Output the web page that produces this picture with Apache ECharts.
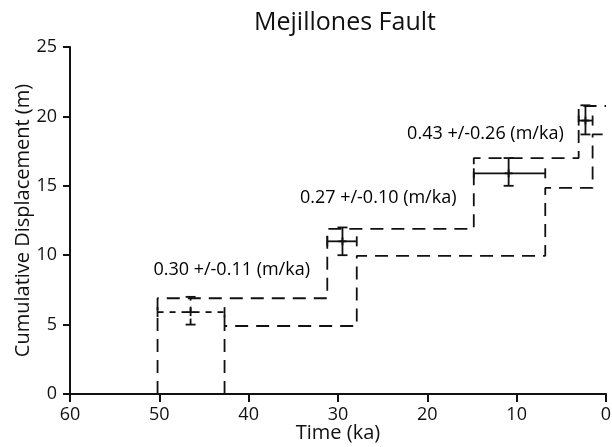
<!DOCTYPE html>
<html>
<head>
<meta charset="utf-8">
<script src="https://cdn.jsdelivr.net/npm/echarts@6/dist/echarts.min.js"></script>
<style>
  html, body { margin: 0; padding: 0; background: #fff; }
  #chart { width: 612px; height: 447px; }
</style>
</head>
<body>
<div id="chart"></div>
<script>
// step envelopes (time ka, displacement m)
var upperStep = [[50.2, 0], [50.2, 6.9], [31.2, 6.9], [31.2, 11.9], [14.8, 11.9], [14.8, 17.0], [3.06, 17.0], [3.06, 20.75], [0, 20.75]];
var lowerStep = [[42.7, 0], [42.7, 5.85], [42.7, 4.9], [27.9, 4.9], [27.9, 9.95], [6.8, 9.95], [6.8, 14.85], [1.5, 14.85], [1.5, 18.7], [0, 18.7]];

// error bars
var ptTime = [46.5, 29.5, 10.9, 2.3];
var ptDisp = [5.9, 11.0, 15.9, 19.7];
var timeOld = [50.2, 31.2, 14.8, 3.06];
var timeYoung = [42.7, 27.9, 6.8, 1.5];
var dispLow = [5.0, 10.0, 15.0, 18.7];
var dispHigh = [7.0, 12.0, 17.0, 20.8];
var dashedBar = [true, false, false, false];

// slip rate labels
var rateText = ['0.30 +/-0.11 (m/ka)', '0.27 +/-0.10 (m/ka)', '0.43 +/-0.26 (m/ka)'];
var rateTime = [41.9, 25.5, 13.5];
var rateDisp = [8.95, 14.15, 18.75];

var FONT = '"Open Sans", "Noto Sans", sans-serif';

var errData = ptTime.map(function (t, i) {
    return [t, ptDisp[i], timeOld[i], timeYoung[i], dispLow[i], dispHigh[i], dashedBar[i] ? 1 : 0];
});
var rateData = rateText.map(function (s, i) {
    return { value: [rateTime[i], rateDisp[i]], name: s };
});

function renderErr(params, api) {
    var c = api.coord([api.value(0), api.value(1)]);
    var xl = api.coord([api.value(2), api.value(1)]);
    var xr = api.coord([api.value(3), api.value(1)]);
    var yb = api.coord([api.value(0), api.value(4)]);
    var yt = api.coord([api.value(0), api.value(5)]);
    var dash = api.value(6) ? [6, 6] : null;
    var st = { stroke: '#111', lineWidth: 1.8, lineDash: dash };
    var solid = { stroke: '#111', lineWidth: 1.8 };
    var cap = 5;
    return {
        type: 'group',
        children: [
            { type: 'line', shape: { x1: xl[0], y1: c[1], x2: xr[0], y2: c[1] }, style: st },
            { type: 'line', shape: { x1: c[0], y1: yb[1], x2: c[0], y2: yt[1] }, style: st },
            { type: 'line', shape: { x1: xl[0], y1: c[1] - cap, x2: xl[0], y2: c[1] + cap }, style: solid },
            { type: 'line', shape: { x1: xr[0], y1: c[1] - cap, x2: xr[0], y2: c[1] + cap }, style: solid },
            { type: 'line', shape: { x1: c[0] - cap, y1: yb[1], x2: c[0] + cap, y2: yb[1] }, style: solid },
            { type: 'line', shape: { x1: c[0] - cap, y1: yt[1], x2: c[0] + cap, y2: yt[1] }, style: solid },
            { type: 'line', shape: { x1: c[0] - 4, y1: c[1], x2: c[0] + 4, y2: c[1] }, style: solid },
            { type: 'line', shape: { x1: c[0], y1: c[1] - 4, x2: c[0], y2: c[1] + 4 }, style: solid }
        ]
    };
}

var chart = echarts.init(document.getElementById('chart'));
var option = {
    animation: false,
    backgroundColor: '#fff',
    title: {
        text: 'Mejillones Fault',
        left: 340,
        top: 5,
        textAlign: 'center',
        textStyle: { fontFamily: FONT, fontSize: 25, fontWeight: 'normal', color: '#111' }
    },
    grid: { left: 70, right: 6, top: 47, bottom: 53, outerBoundsMode: 'none', containLabel: false },
    xAxis: {
        type: 'value',
        min: 0, max: 60, interval: 10,
        inverse: true,
        name: 'Time (ka)',
        nameLocation: 'middle',
        nameGap: 29,
        nameMoveOverlap: false,
        nameTextStyle: { fontFamily: FONT, fontSize: 20, color: '#111' },
        axisLine: { onZero: false, lineStyle: { color: '#111', width: 2 } },
        axisTick: { length: 8, lineStyle: { color: '#111', width: 2 } },
        axisLabel: { fontFamily: FONT, fontSize: 18, color: '#111', margin: 12 },
        splitLine: { show: false }
    },
    yAxis: {
        type: 'value',
        min: 0, max: 25, interval: 5,
        name: 'Cumulative Displacement (m)',
        nameLocation: 'middle',
        nameGap: 37,
        nameMoveOverlap: false,
        nameTextStyle: { fontFamily: FONT, fontSize: 20, color: '#111' },
        axisLine: { show: true, onZero: false, lineStyle: { color: '#111', width: 2 } },
        axisTick: { show: true, length: 7, lineStyle: { color: '#111', width: 2 } },
        axisLabel: { fontFamily: FONT, fontSize: 18, color: '#111', margin: 13 },
        splitLine: { show: false }
    },
    series: [
        {
            type: 'line',
            data: upperStep,
            symbol: 'none',
            lineStyle: { color: '#111', width: 1.8, type: [13, 8] }
        },
        {
            type: 'line',
            data: lowerStep,
            symbol: 'none',
            lineStyle: { color: '#111', width: 1.8, type: [13, 8] }
        },
        {
            type: 'custom',
            data: errData,
            renderItem: renderErr,
            encode: { x: 0, y: 1 },
            z: 5
        },
        {
            type: 'scatter',
            data: rateData,
            symbolSize: 0,
            itemStyle: { opacity: 1 },
            label: {
                show: true,
                position: 'inside',
                formatter: '{b}',
                fontFamily: FONT,
                fontSize: 18,
                color: '#000',
                opacity: 1
            }
        }
    ]
};
chart.setOption(option);
</script>
</body>
</html>
